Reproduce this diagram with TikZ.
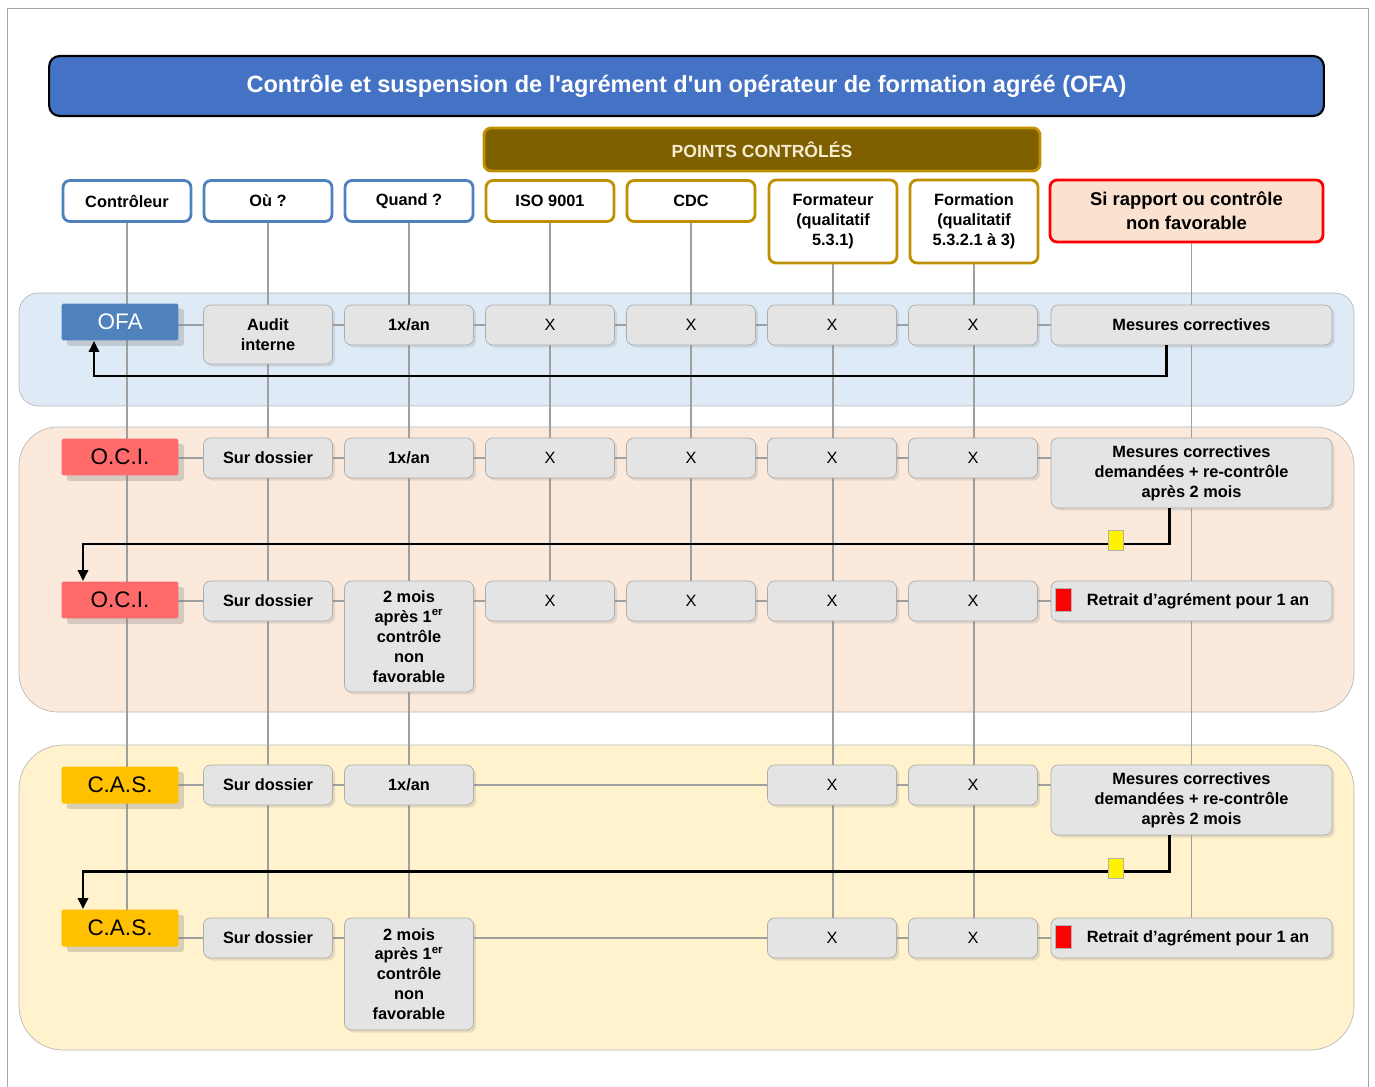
\documentclass[tikz,border=0pt]{standalone}
\usepackage{fontspec}
\setmainfont{Liberation Sans}
\usetikzlibrary{arrows.meta,shadows}
\pgfdeclarelayer{background}
\pgfsetlayers{background,main}

\definecolor{titleblue}{HTML}{4472C4}
\definecolor{hdblue}{HTML}{4F81BD}
\definecolor{hdgold}{HTML}{BF9000}
\definecolor{olive}{HTML}{7F6000}
\definecolor{pale}{HTML}{F5EBD0}
\definecolor{bandblue}{HTML}{DEEBF7}
\definecolor{bandpeach}{HTML}{FBEADC}
\definecolor{bandyellow}{HTML}{FFF2CC}
\definecolor{cellgray}{HTML}{E4E4E4}
\definecolor{ocired}{HTML}{FF6B6B}
\definecolor{casyellow}{HTML}{FFC000}
\definecolor{peach}{HTML}{FBE1CF}

\begin{document}
\begin{tikzpicture}[x=0.02cm,y=-0.02cm]
				\tikzstyle{every node}=[font=\bfseries\fontsize{9.3}{11.3}\selectfont,align=center,inner sep=1pt]
				\tikzstyle{head}=[draw,line width=1.6pt,rounded corners=4pt,fill=white,
				minimum width=2.56cm,minimum height=0.82cm]
				\tikzstyle{cell}=[draw=gray!65,fill=cellgray,rounded corners=4pt,
				minimum width=2.58cm,minimum height=0.8cm,
				drop shadow={opacity=0.2,shadow xshift=1.5pt,shadow yshift=-1.5pt}]
				\tikzstyle{xcell}=[cell,font=\fontsize{9.3}{11.3}\selectfont]
				\tikzstyle{who}=[rounded corners=1pt,minimum width=2.34cm,minimum height=0.74cm,
				font=\fontsize{12.8}{14}\selectfont,
				drop shadow={opacity=0.3,shadow xshift=3pt,shadow yshift=-3pt}]
				\tikzstyle{band}=[draw=gray!55]
				\tikzstyle{link}=[draw=gray!75,line width=0.6pt]
				\tikzstyle{back}=[draw=black,line width=1.7pt,-{Triangle[length=2.2mm,width=2mm]}]
				\tikzstyle{card}=[draw=gray!60,minimum width=0.3cm,minimum height=0.4cm,inner sep=0pt]
				\useasboundingbox (0,0) rectangle (1375,1087);
				\draw[gray!70] (7,1087) -- (7,8) -- (1368,8) -- (1368,1087);
				\node[draw=black,line width=1.2pt,fill=titleblue,rounded corners=6pt,text=white,
				minimum width=25.5cm,minimum height=1.2cm,font=\bfseries\fontsize{13.4}{16}\selectfont]
				(title) at (686.5,86) {Contrôle et suspension de l\textquotesingle agrément d\textquotesingle un opérateur de formation agréé (OFA)};
				\node[draw=hdgold,line width=1.6pt,fill=olive,rounded corners=4pt,text=pale,
				minimum width=11.12cm,minimum height=0.86cm,font=\bfseries\fontsize{10}{12}\selectfont]
				(pts) at (762,149.5) {POINTS CONTRÔLÉS};
				\node[head,draw=hdblue] (hctl) at (127,201) {Contrôleur};
				\node[head,draw=hdblue] (hou) at (268,201) {Où ?};
				\node[head,draw=hdblue] (hqd) at (409,201) {Quand ?};
				\node[head,draw=hdgold] (hiso) at (550,201) {ISO 9001};
				\node[head,draw=hdgold] (hcdc) at (691,201) {CDC};
				\node[head,draw=hdgold,minimum height=1.66cm] (hfmt) at (833,221.5) {Formateur\\(qualitatif\\5.3.1)};
				\node[head,draw=hdgold,minimum height=1.66cm] (hfmn) at (974,221.5) {Formation\\(qualitatif\\5.3.2.1 à 3)};
				\node[head,draw=red,fill=peach,minimum width=5.46cm,minimum height=1.24cm,
				font=\bfseries\fontsize{10.5}{13.6}\selectfont] (hsi) at (1186.5,211) {Si rapport ou contrôle\\non favorable};
				
				\node[who,fill=hdblue,text=white] (ofa) at (120,322) {OFA};
				\node[cell,minimum height=1.18cm] (ou1) at (268,334.5) {Audit\\interne};
				\node[cell] (qd1) at (409,325) {1x/an};
				\node[xcell] (iso1) at (550,325) {X};
				\node[xcell] (cdc1) at (691,325) {X};
				\node[xcell] (fmt1) at (832,325) {X};
				\node[xcell] (fmn1) at (973,325) {X};
				\node[cell,minimum width=5.62cm] (si1) at (1191.5,325) {Mesures correctives};
				
				\node[who,fill=ocired] (oci1) at (120,457) {O.C.I.};
				\node[cell] (ou2) at (268,458) {Sur dossier};
				\node[cell] (qd2) at (409,458) {1x/an};
				\node[xcell] (iso2) at (550,458) {X};
				\node[xcell] (cdc2) at (691,458) {X};
				\node[xcell] (fmt2) at (832,458) {X};
				\node[xcell] (fmn2) at (973,458) {X};
				\node[cell,minimum width=5.62cm,minimum height=1.4cm] (si2) at (1191.5,473)
				{Mesures correctives\\demandées + re-contrôle\\après 2 mois};
				
				\node[who,fill=ocired] (oci2) at (120,600) {O.C.I.};
				\node[cell] (ou3) at (268,601) {Sur dossier};
				\node[cell,minimum height=2.22cm] (qd3) at (409,636.5) {2 mois\\après 1\textsuperscript{er}\\contrôle\\non\\favorable};
				\node[xcell] (iso3) at (550,601) {X};
				\node[xcell] (cdc3) at (691,601) {X};
				\node[xcell] (fmt3) at (832,601) {X};
				\node[xcell] (fmn3) at (973,601) {X};
				\node[cell,minimum width=5.62cm] (si3) at (1191.5,601) {\hspace*{0.26cm}Retrait d’agrément pour 1 an};
				
				\node[who,fill=casyellow] (cas1) at (120,785) {C.A.S.};
				\node[cell] (ou4) at (268,785) {Sur dossier};
				\node[cell] (qd4) at (409,785) {1x/an};
				\node[xcell] (fmt4) at (832,785) {X};
				\node[xcell] (fmn4) at (973,785) {X};
				\node[cell,minimum width=5.62cm,minimum height=1.4cm] (si4) at (1191.5,800)
				{Mesures correctives\\demandées + re-contrôle\\après 2 mois};
				
				\node[who,fill=casyellow] (cas2) at (120,928) {C.A.S.};
				\node[cell] (ou5) at (268,938) {Sur dossier};
				\node[cell,minimum height=2.24cm] (qd5) at (409,974) {2 mois\\après 1\textsuperscript{er}\\contrôle\\non\\favorable};
				\node[xcell] (fmt5) at (832,938) {X};
				\node[xcell] (fmn5) at (973,938) {X};
				\node[cell,minimum width=5.62cm] (si5) at (1191.5,938) {\hspace*{0.26cm}Retrait d’agrément pour 1 an};
				
				\begin{pgfonlayer}{background}
				\draw[band,fill=bandblue,rounded corners=11pt] (19,293) rectangle (1354,406);
				\draw[band,fill=bandpeach,rounded corners=22pt] (19,427) rectangle (1354,712);
				\draw[band,fill=bandyellow,rounded corners=25pt] (19,745) rectangle (1354,1050);
				\draw[link] (hctl) -- (hctl |- cas2);
				\draw[link] (hou) -- (hou |- ou5);
				\draw[link] (hqd) -- (hqd |- qd5);
				\draw[link] (hiso) -- (hiso |- iso3);
				\draw[link] (hcdc) -- (hcdc |- cdc3);
				\draw[link] (hfmt) -- (hfmt |- fmt5);
				\draw[link] (hfmn) -- (hfmn |- fmn5);
				\draw[link] (si1 |- hsi) -- (si1 |- si5);
				\draw[link] (ofa |- qd1) -- (qd1 -| si1);
				\draw[link] (oci1 |- qd2) -- (qd2 -| si2);
				\draw[link] (oci2 |- iso3) -- (iso3 -| si3);
				\draw[link] (cas1 |- qd4) -- (qd4 -| si4);
				\draw[link] (cas2 |- fmt5) -- (fmt5 -| si5);
				\end{pgfonlayer}
				
				\coordinate (k1) at (1166,376);
				\coordinate (k2) at (94,376);
				\coordinate (k3) at (1169,544);
				\coordinate (k4) at (83,544);
				\coordinate (k5) at (1169,871);
				\coordinate (k6) at (83,871);
				\draw[back] (k1 |- si1.south) -- (k1) -- (k2) -- (k2 |- ofa.south);
				\draw[back] (k3 |- si2.south) -- (k3) -- (k4) -- (k4 |- oci2.north);
				\draw[back] (k5 |- si4.south) -- (k5) -- (k6) -- (k6 |- cas2.north);
				\node[card,fill=yellow] (y1) at (1116,540) {};
				\node[card,fill=yellow] (y2) at (1116,868) {};
				\node[card,fill=red,minimum width=0.32cm,minimum height=0.46cm] (r1) at (1063,600) {};
				\node[card,fill=red,minimum width=0.32cm,minimum height=0.46cm] (r2) at (1063,937) {};
\end{tikzpicture}
\end{document}
